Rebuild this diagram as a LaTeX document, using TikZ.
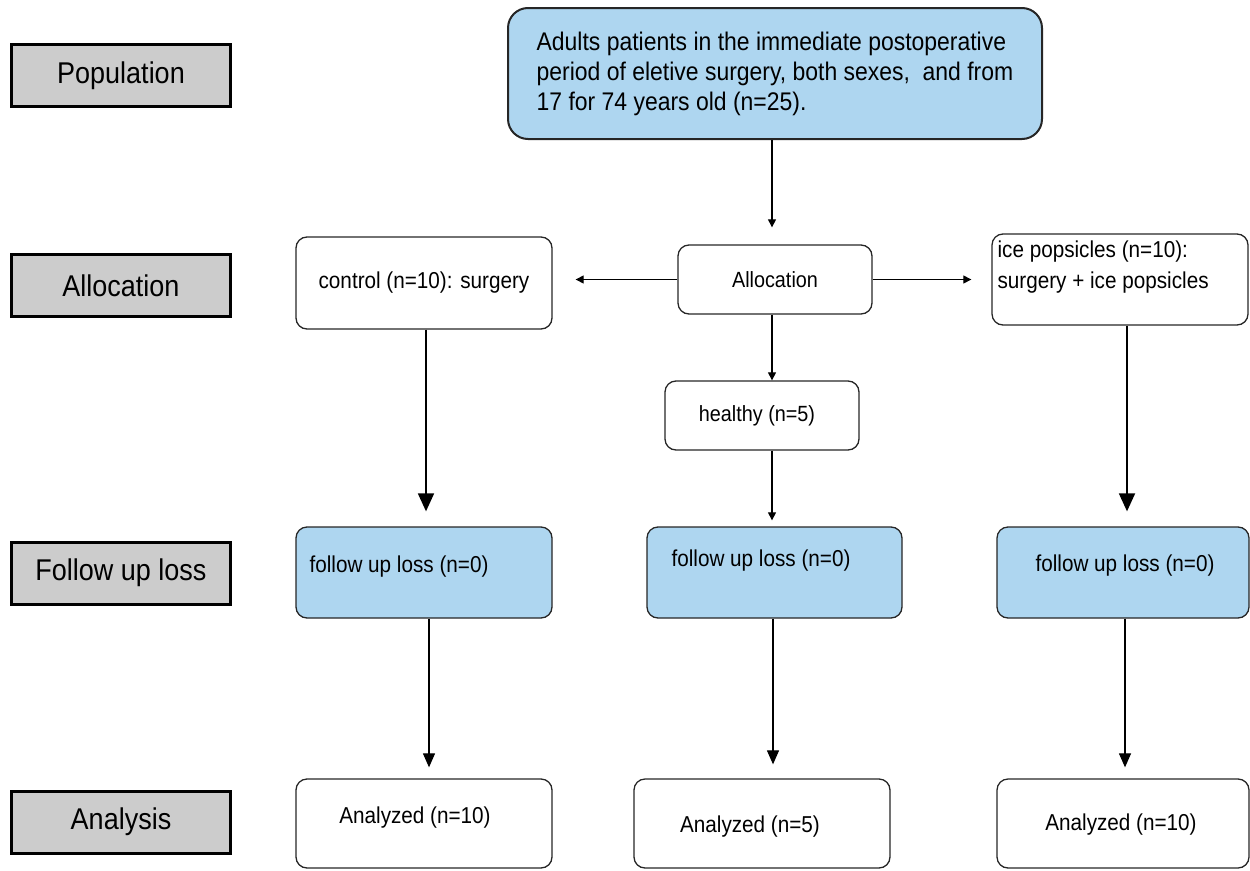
\documentclass[tikz,border=0pt]{standalone}
\usepackage{fontspec}
\setmainfont[FakeStretch=0.9]{Liberation Sans}
\usetikzlibrary{arrows.meta}
\definecolor{boxblue}{RGB}{174,214,240}
\definecolor{stagegrey}{RGB}{204,204,204}
\newcommand{\fs}[1]{\fontsize{#1}{1.2\dimexpr #1pt\relax}\selectfont}
\tikzset{
  stage/.style={draw=black, line width=3pt, fill=stagegrey, minimum width=219, minimum height=62, inner sep=0, font=\fontsize{30}{36}\selectfont},
  flowbox/.style={draw=black!85, line width=1.3pt, rounded corners=11, inner sep=0, font=\fontsize{23}{28}\selectfont},
  bluebox/.style={flowbox, fill=boxblue},
  smallarrow/.style={line width=1.1pt, -{Triangle[length=8,width=8]}},
  midarrow/.style={line width=1.2pt, -{Triangle[length=14,width=12]}},
  bigarrow/.style={line width=1.8pt, -{Triangle[length=18,width=16]}},
  inlabel/.style={inner sep=0, font=\fontsize{23}{31}\selectfont, align=left}
}
\begin{document}
\begin{tikzpicture}[x=1pt, y=-1pt]
\useasboundingbox (0,0) rectangle (1250,870);
% stage labels
\node[stage] (pop) at (121,75.5) {Population};
\node[stage] (allocst) at (121,285.5) {Allocation};
\node[stage] (fust) at (121,573) {Follow up loss};
\node[stage] (anst) at (121,822) {Analysis};
% top box
\node[bluebox, line width=2pt, rounded corners=20, minimum width=534, minimum height=131, align=left, font=\fontsize{25.5}{30}\selectfont] (top) at (775,73.5)
  {Adults patients in the immediate postoperative\\period of eletive surgery, both sexes,\ \ and from\\17 for 74 years old (n=25).};
% allocation row
\node[flowbox, minimum width=194, minimum height=69, font=\fontsize{22}{26}\selectfont] (alloc) at (775,279.5) {Allocation};
\node[flowbox, minimum width=256, minimum height=92] (ctrl) at (424,283) {control (n=10): surgery};
\node[flowbox, minimum width=256, minimum height=91,
  label={[inlabel, anchor=north west, xshift=6, yshift=-7]north west:ice popsicles (n=10):\\surgery + ice popsicles}] (ice) at (1120,279.5) {};
\node[flowbox, minimum width=194, minimum height=69, font=\fontsize{22}{26}\selectfont] (healthy) at (762,415.5) {\hspace*{-10pt}healthy (n=5)};
% follow-up row
\node[bluebox, minimum width=256, minimum height=91,
  label={[inlabel, anchor=west, xshift=14, yshift=6]west:follow up loss (n=0)}] (ful) at (424,572.5) {};
\node[bluebox, minimum width=255, minimum height=91,
  label={[inlabel, anchor=west, xshift=25, yshift=12]west:follow up loss (n=0)}] (fum) at (774.5,572.5) {};
\node[bluebox, minimum width=252, minimum height=91,
  label={[inlabel, anchor=center, xshift=2, yshift=7]center:follow up loss (n=0)}] (fur) at (1123,572.5) {};
% analysis row
\node[flowbox, minimum width=256, minimum height=89,
  label={[inlabel, anchor=center, xshift=-9, yshift=6]center:Analyzed (n=10)}] (anl) at (424,823.5) {};
\node[flowbox, minimum width=256, minimum height=89,
  label={[inlabel, anchor=center, xshift=-12, yshift=-3]center:Analyzed (n=5)}] (anm) at (762,823.5) {};
\node[flowbox, minimum width=252, minimum height=89,
  label={[inlabel, anchor=center, xshift=-2, yshift=-1]center:Analyzed (n=10)}] (anr) at (1123,823.5) {};
% connectors
\draw[smallarrow, shorten >=17pt] (top.south -| 772,0) -- (alloc.north -| 772,0);
\draw[smallarrow, shorten >=23pt] (alloc.west) -- (ctrl.east |- alloc.west);
\draw[smallarrow, shorten >=20pt] (alloc.east) -- (ice.west |- alloc.east);
\draw[smallarrow] (alloc.south -| 772,0) -- (healthy.north -| 772,0);
\draw[bigarrow, shorten >=15pt] (ctrl.south -| 426,0) -- (ful.north -| 426,0);
\draw[bigarrow, shorten >=15pt] (ice.south -| 1127,0) -- (fur.north -| 1127,0);
\draw[smallarrow, shorten >=6pt] (healthy.south -| 772,0) -- (fum.north -| 772,0);
\draw[midarrow, shorten >=11pt] (ful.south -| 429,0) -- (anl.north -| 429,0);
\draw[midarrow, shorten >=14pt] (fum.south -| 773,0) -- (anm.north -| 773,0);
\draw[midarrow, shorten >=11pt] (fur.south -| 1125,0) -- (anr.north -| 1125,0);
\end{tikzpicture}
\end{document}
